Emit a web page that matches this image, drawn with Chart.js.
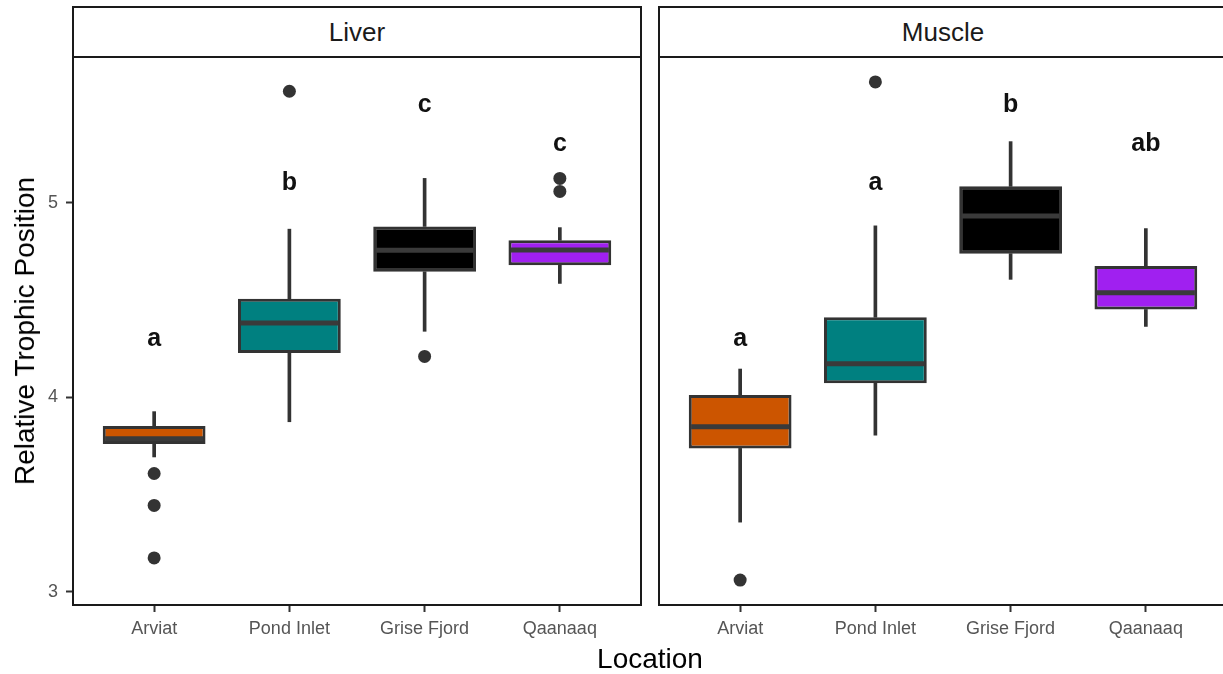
<!DOCTYPE html>
<html>
<head>
<meta charset="utf-8">
<script src="https://cdn.jsdelivr.net/npm/chart.js@4.4.1/dist/chart.umd.min.js"></script>
<style>
  body { margin: 0; background: #fff; font-family: "Liberation Sans", Arial, sans-serif; }
  #wrap { position: relative; width: 1223px; height: 674px; overflow: hidden; background: #fff; }
  canvas { position: absolute; top: 0; }
  .strip { position: absolute; top: 6px; height: 52px; width: 570px; box-sizing: border-box;
           border: 2px solid #1a1a1a; background: #fff; font-size: 26px; color: #1a1a1a;
           display: flex; align-items: center; justify-content: center; }
  #ytitle { position: absolute; left: 25px; top: 331px; transform: translate(-50%, -50%) rotate(-90deg);
            white-space: nowrap; font-size: 28px; color: #000; }
  #xtitle { position: absolute; left: 650px; top: 659px; transform: translate(-50%, -50%);
            white-space: nowrap; font-size: 28px; color: #000; }
</style>
</head>
<body>
<div id="wrap">
  <canvas id="liverChart" width="650" height="674" style="left:0"></canvas>
  <canvas id="muscleChart" width="590" height="674" style="left:650px"></canvas>
  <div class="strip" style="left:72px">Liver</div>
  <div class="strip" style="left:658px">Muscle</div>
  <div id="ytitle">Relative Trophic Position</div>
  <div id="xtitle">Location</div>
</div>
<script>
// locations
var categories = ["Arviat", "Pond Inlet", "Grise Fjord", "Qaanaaq"];
var boxColors = ["#cc5500", "#008080", "#000000", "#a020f0"];
var yTicks = [3, 4, 5];

// Liver
var liverLow = [3.693, 3.874, 4.339, 4.585];
var liverQ1 = [3.759, 4.227, 4.645, 4.678];
var liverMedian = [3.786, 4.382, 4.755, 4.757];
var liverQ3 = [3.852, 4.506, 4.878, 4.807];
var liverHigh = [3.926, 4.864, 5.125, 4.872];
var liverOutliers = [[3.608, 3.444, 3.174], [5.573], [4.21], [5.125, 5.058]];
var liverLetters = ["a", "b", "c", "c"];
var liverLetterY = [4.3, 5.1, 5.5, 5.3];

// Muscle
var muscleLow = [3.358, 3.805, 4.606, 4.364];
var muscleQ1 = [3.737, 4.072, 4.738, 4.451];
var muscleMedian = [3.848, 4.172, 4.932, 4.537];
var muscleQ3 = [4.012, 4.411, 5.084, 4.674];
var muscleHigh = [4.145, 4.881, 5.314, 4.867];
var muscleOutliers = [[3.06], [5.621], [], []];
var muscleLetters = ["a", "a", "b", "ab"];
var muscleLetterY = [4.3, 5.1, 5.5, 5.3];

Chart.defaults.font.family = '"Liberation Sans", Arial, sans-serif';

// panel border + significance letters
var panelPlugin = {
  id: "panel",
  afterDatasetsDraw: function(chart) {
    var ctx = chart.ctx, a = chart.chartArea;
    var xs = chart.scales.x, ys = chart.scales.y;
    var letters = chart.options.plugins.panel.letters;
    var letterY = chart.options.plugins.panel.letterY;
    ctx.save();
    ctx.font = "bold 25px " + Chart.defaults.font.family;
    ctx.fillStyle = "#111";
    ctx.textAlign = "center";
    ctx.textBaseline = "middle";
    for (var i = 0; i < letters.length; i++) {
      ctx.fillText(letters[i], xs.getPixelForValue(i + 1), ys.getPixelForValue(letterY[i]));
    }
    ctx.strokeStyle = "#1a1a1a";
    ctx.lineWidth = 2;
    ctx.strokeRect(a.left, a.top, a.right - a.left, a.bottom - a.top);
    ctx.restore();
  }
};

function makeChart(id, low, q1, med, q3, high, outliers, letters, letterY, showY, pad) {
  var boxes = [], lowW = [], highW = [], medians = [], points = [];
  for (var i = 0; i < categories.length; i++) {
    boxes.push({x: i + 1, y: [q1[i], q3[i]]});
    lowW.push({x: i + 1, y: [low[i], q1[i]]});
    highW.push({x: i + 1, y: [q3[i], high[i]]});
    medians.push({x: i + 1, y: med[i]});
    outliers[i].forEach(function(v) { points.push({x: i + 1, y: v}); });
  }

  var ctx = document.getElementById(id).getContext("2d");
  return new Chart(ctx, {
    type: "bar",
    data: {
      datasets: [
        { type: "scatter", data: points, order: 0, pointRadius: 6.5,
          backgroundColor: "#333", borderWidth: 0 },
        { type: "scatter", data: medians, order: 1, pointStyle: "line", pointRadius: 49,
          borderColor: "#3a3a3a", pointBorderColor: "#3a3a3a", pointBorderWidth: 5 },
        { type: "bar", data: boxes, order: 2, grouped: false, backgroundColor: boxColors,
          borderColor: "#333", borderWidth: 3, borderSkipped: false,
          barPercentage: 0.76, categoryPercentage: 1 },
        { type: "bar", data: lowW, order: 3, grouped: false, backgroundColor: "#333",
          barThickness: 3 },
        { type: "bar", data: highW, order: 3, grouped: false, backgroundColor: "#333",
          barThickness: 3 }
      ]
    },
    plugins: [panelPlugin],
    options: {
      responsive: false,
      animation: false,
      events: [],
      layout: { padding: pad, autoPadding: false },
      plugins: {
        legend: { display: false },
        tooltip: { enabled: false },
        panel: { letters: letters, letterY: letterY }
      },
      scales: {
        x: {
          type: "linear", min: 0.4, max: 4.6, offset: false,
          afterBuildTicks: function(s) { s.ticks = categories.map(function(c, i) { return {value: i + 1}; }); },
          afterFit: function(s) { s.height = 69; s.paddingLeft = 0; s.paddingRight = 0; },
          ticks: { callback: function(v) { return categories[v - 1]; }, color: "#555",
                   font: { size: 18 }, padding: 6, maxRotation: 0, autoSkip: false },
          grid: { display: true, offset: false, drawOnChartArea: false, tickLength: 7,
                  tickWidth: 2, tickColor: "#333" },
          border: { display: false }
        },
        y: {
          display: showY, min: 2.932, max: 5.749,
          afterBuildTicks: function(s) { s.ticks = yTicks.map(function(v) { return {value: v}; }); },
          afterFit: function(s) { s.width = showY ? 73 : 0; s.paddingTop = 0; s.paddingBottom = 0; },
          ticks: { color: "#555", font: { size: 18 }, padding: 8 },
          grid: { display: true, drawOnChartArea: false, tickLength: 7, tickWidth: 2, tickColor: "#333" },
          border: { display: false }
        }
      }
    }
  });
}

makeChart("liverChart", liverLow, liverQ1, liverMedian, liverQ3, liverHigh, liverOutliers,
          liverLetters, liverLetterY, true, {top: 57, right: 9, left: 0, bottom: 0});
makeChart("muscleChart", muscleLow, muscleQ1, muscleMedian, muscleQ3, muscleHigh, muscleOutliers,
          muscleLetters, muscleLetterY, false, {top: 57, right: 13, left: 9, bottom: 0});
</script>
</body>
</html>
